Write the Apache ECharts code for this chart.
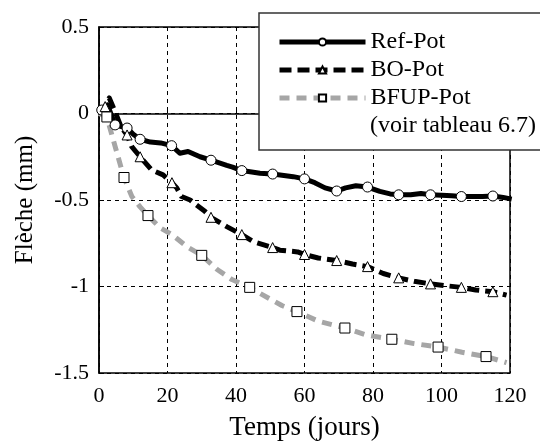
<!DOCTYPE html>
<html>
<head>
<meta charset="utf-8">
<script src="https://cdn.jsdelivr.net/npm/echarts@6/dist/echarts.min.js"></script>
<style>
html, body { margin: 0; padding: 0; background: #fff; }
#chart { width: 540px; height: 442px; }
</style>
</head>
<body>
<div id="chart"></div>
<script>
// courbes : [jour, fleche mm]
const refPot = [[0,0],[0.8,0.02],[2.5,0.05],[4.7,-0.066],[6.5,-0.075],[8.2,-0.084],[10,-0.12],[12,-0.149],[15,-0.165],[18,-0.17],[21.2,-0.186],[23.6,-0.23],[26,-0.22],[29.5,-0.25],[32.7,-0.27],[37.3,-0.30],[39,-0.31],[41.7,-0.33],[47,-0.345],[50.7,-0.35],[56.7,-0.365],[60,-0.378],[63,-0.40],[66,-0.43],[69.4,-0.448],[72,-0.43],[75,-0.418],[78.4,-0.425],[82,-0.45],[85,-0.465],[87.5,-0.47],[91,-0.47],[94,-0.462],[96.8,-0.47],[100,-0.472],[103,-0.476],[105.8,-0.48],[109,-0.48],[112,-0.48],[115,-0.477],[118,-0.485],[120.5,-0.495]]
const refMarks = [0.8, 4.7, 8.2, 12, 21.2, 32.7, 41.7, 50.7, 60, 69.4, 78.4, 87.5, 96.8, 105.8, 115]

const boPot = [[0,0],[1.8,0.04],[3,0.09],[4.5,0.02],[6.5,-0.08],[8.2,-0.124],[9.5,-0.19],[12,-0.25],[15.4,-0.327],[18.7,-0.355],[21.3,-0.40],[22.7,-0.43],[24.1,-0.48],[26.6,-0.50],[31,-0.567],[32.7,-0.60],[37.3,-0.654],[41.7,-0.70],[45,-0.74],[50.7,-0.775],[52.8,-0.79],[58,-0.80],[60,-0.815],[64,-0.835],[69.4,-0.85],[74,-0.87],[78.4,-0.885],[83,-0.925],[87.5,-0.95],[92,-0.97],[96.8,-0.985],[101,-0.995],[105.8,-1.005],[110,-1.02],[115,-1.03],[119,-1.05]]
const boMarks = [1.8, 8.2, 12, 21.3, 32.7, 41.7, 50.7, 60, 69.4, 78.4, 87.5, 96.8, 105.8, 115]

const bfupPot = [[0,0],[2.3,-0.02],[3.2,-0.085],[4.7,-0.19],[6.7,-0.33],[7.3,-0.37],[9.6,-0.48],[12,-0.54],[14.3,-0.59],[17.8,-0.66],[21.3,-0.70],[25.7,-0.77],[30,-0.82],[34.4,-0.9],[38.8,-0.96],[44,-1.005],[47,-1.04],[53.4,-1.11],[57.8,-1.145],[64,-1.2],[71.8,-1.24],[78,-1.28],[85.5,-1.305],[92,-1.33],[99,-1.35],[106,-1.38],[113,-1.405],[119,-1.44]]
const bfupMarks = [2.3, 7.3, 14.3, 30, 44, 57.8, 71.8, 85.5, 99, 113]

const names = ['Ref-Pot', 'BO-Pot', 'BFUP-Pot']
const note = '(voir tableau 6.7)'

const font = 'Liberation Serif'

const build = function (points, marks) {
    return points.map(p => marks.indexOf(p[0]) >= 0 ? { value: p } : { value: p, symbol: 'none' })
}

const mkSeries = function (name, points, marks, color, dash, symbol) {
    return {
        name,
        type: 'line',
        data: build(points, marks),
        symbol,
        symbolSize: symbol === 'rect' ? 10 : 10,
        showSymbol: true,
        showAllSymbol: true,
        lineStyle: { color, width: 5, type: dash, cap: 'butt', join: 'round' },
        itemStyle: { color: '#fff', borderColor: '#000', borderWidth: 1 },
        emphasis: { disabled: true },
        z: 3
    }
}

const chart = echarts.init(document.getElementById('chart'))
chart.setOption({
    animation: false,
    grid: {
        left: 99, right: 30, top: 27, bottom: 69,
        containLabel: false, outerBoundsMode: 'none',
        show: true, borderColor: '#000', borderWidth: 1.5
    },
    legend: {
        left: 272, top: 25,
        orient: 'vertical',
        itemWidth: 86, itemHeight: 9, itemGap: 4,
        lineStyle: { width: 5 },
        textStyle: { fontFamily: font, fontSize: 24, color: '#000', lineHeight: 24 },
        data: names,
        z: 5
    },
    graphic: [
        {
            type: 'rect', z: 1,
            shape: { x: 259, y: 13, width: 300, height: 137 },
            style: { fill: '#fff', stroke: '#333', lineWidth: 1.5 }
        },
        {
            type: 'text', z: 6, left: 370, top: 114,
            style: { text: note, font: '24px "Liberation Serif"', fill: '#000' }
        }
    ],
    xAxis: {
        type: 'value', min: 0, max: 120, interval: 20,
        name: 'Temps (jours)', nameLocation: 'middle', nameGap: 41,
        nameTextStyle: { fontFamily: font, fontSize: 27, color: '#000' },
        axisLine: { show: true, lineStyle: { color: '#000', width: 1.5 } },
        axisTick: { show: true, inside: true, length: 5, lineStyle: { color: '#000' } },
        axisLabel: { fontFamily: font, fontSize: 22, color: '#000', margin: 12 },
        splitLine: { show: true, lineStyle: { color: '#000', width: 1, type: [4, 4] } }
    },
    yAxis: {
        type: 'value', min: -1.5, max: 0.5, interval: 0.5,
        name: 'Flèche (mm)', nameLocation: 'middle', nameGap: 61, nameRotate: 90,
        nameTextStyle: { fontFamily: font, fontSize: 25, color: '#000' },
        axisLine: { show: true, lineStyle: { color: '#000', width: 1.5 } },
        axisTick: { show: true, inside: true, length: 5, lineStyle: { color: '#000' } },
        axisLabel: { fontFamily: font, fontSize: 22, color: '#000', margin: 10 },
        splitLine: { show: true, lineStyle: { color: '#000', width: 1, type: [4, 4] } }
    },
    series: [
        mkSeries(names[0], refPot, refMarks, '#000', 'solid', 'circle'),
        mkSeries(names[1], boPot, boMarks, '#000', [12, 6], 'triangle'),
        mkSeries(names[2], bfupPot, bfupMarks, '#a6a6a6', [10, 7], 'rect')
    ]
})
</script>
</body>
</html>
